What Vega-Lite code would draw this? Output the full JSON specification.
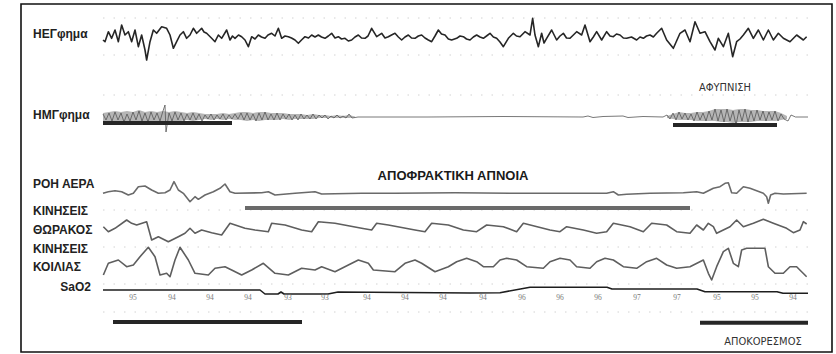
{
  "$schema": "https://vega.github.io/schema/vega-lite/v6.json",
  "width": 836,
  "height": 354,
  "autosize": {"type": "fit", "contains": "padding"},
  "padding": {"left": 21, "top": 4, "right": 4, "bottom": 2},
  "background": "white",
  "config": {"view": {"stroke": "#111111", "strokeWidth": 1.6}},
  "datasets": {
    "grid": [
      {"t": 0, "t2": 141, "v": 334}, {"t": 0, "t2": 141, "v": 297}, {"t": 0, "t2": 141, "v": 257},
      {"t": 0, "t2": 141, "v": 142}, {"t": 0, "t2": 141, "v": 105}, {"t": 0, "t2": 141, "v": 68}, {"t": 0, "t2": 141, "v": 40}
    ],
    "traces": [
      {"c":"eeg","t":0.0,"v":312},{"c":"eeg","t":0.4,"v":310.3},{"c":"eeg","t":1.07,"v":320.3},{"c":"eeg","t":1.73,"v":313.7},{"c":"eeg","t":2.4,"v":322},{"c":"eeg","t":3.07,"v":310.3},{"c":"eeg","t":3.73,"v":327},{"c":"eeg","t":4.4,"v":317},{"c":"eeg","t":5.07,"v":320.3},{"c":"eeg","t":5.73,"v":310.3},{"c":"eeg","t":6.4,"v":322},{"c":"eeg","t":7.07,"v":305.3},{"c":"eeg","t":7.73,"v":317},{"c":"eeg","t":8.4,"v":302},{"c":"eeg","t":8.73,"v":292},{"c":"eeg","t":9.4,"v":310.3},{"c":"eeg","t":10.07,"v":322},{"c":"eeg","t":10.73,"v":318.7},{"c":"eeg","t":11.73,"v":325.3},{"c":"eeg","t":12.73,"v":323.7},{"c":"eeg","t":13.4,"v":317},{"c":"eeg","t":14.07,"v":303.7},{"c":"eeg","t":14.73,"v":310.3},{"c":"eeg","t":15.4,"v":317},{"c":"eeg","t":16.07,"v":320.3},{"c":"eeg","t":16.73,"v":313.7},{"c":"eeg","t":17.4,"v":317},{"c":"eeg","t":18.07,"v":323.7},{"c":"eeg","t":18.73,"v":318.7},{"c":"eeg","t":19.2,"v":321},{"c":"eeg","t":19.73,"v":323.7},{"c":"eeg","t":20.2,"v":320},{"c":"eeg","t":20.73,"v":318.7},{"c":"eeg","t":21.73,"v":313.7},{"c":"eeg","t":22.4,"v":310.3},{"c":"eeg","t":23.07,"v":317},{"c":"eeg","t":23.73,"v":313.7},{"c":"eeg","t":24.73,"v":322},{"c":"eeg","t":25.4,"v":312},{"c":"eeg","t":25.9,"v":316},{"c":"eeg","t":26.4,"v":313.7},{"c":"eeg","t":27.1,"v":317},{"c":"eeg","t":27.73,"v":315.3},{"c":"eeg","t":28.4,"v":312},{"c":"eeg","t":29.07,"v":305.3},{"c":"eeg","t":29.73,"v":315.3},{"c":"eeg","t":30.4,"v":313},{"c":"eeg","t":31.07,"v":317},{"c":"eeg","t":31.7,"v":315},{"c":"eeg","t":32.4,"v":313.7},{"c":"eeg","t":33.0,"v":317},{"c":"eeg","t":33.73,"v":318.7},{"c":"eeg","t":34.4,"v":316},{"c":"eeg","t":35.07,"v":323.7},{"c":"eeg","t":35.73,"v":313.7},{"c":"eeg","t":36.4,"v":316},{"c":"eeg","t":37.07,"v":315.3},{"c":"eeg","t":37.7,"v":314},{"c":"eeg","t":38.4,"v":312},{"c":"eeg","t":39.07,"v":308.7},{"c":"eeg","t":39.7,"v":312},{"c":"eeg","t":40.4,"v":315.3},{"c":"eeg","t":41.1,"v":314},{"c":"eeg","t":41.73,"v":317},{"c":"eeg","t":42.4,"v":315},{"c":"eeg","t":43.07,"v":317},{"c":"eeg","t":43.7,"v":315},{"c":"eeg","t":44.4,"v":313.7},{"c":"eeg","t":45.07,"v":316},{"c":"eeg","t":45.73,"v":318.7},{"c":"eeg","t":46.4,"v":314},{"c":"eeg","t":47.07,"v":315.3},{"c":"eeg","t":47.7,"v":313},{"c":"eeg","t":48.4,"v":313.7},{"c":"eeg","t":49.07,"v":311},{"c":"eeg","t":49.73,"v":312},{"c":"eeg","t":50.4,"v":315},{"c":"eeg","t":51.07,"v":317},{"c":"eeg","t":51.7,"v":314},{"c":"eeg","t":52.4,"v":313.7},{"c":"eeg","t":53.0,"v":316},{"c":"eeg","t":53.73,"v":323.7},{"c":"eeg","t":54.73,"v":315.3},{"c":"eeg","t":55.73,"v":318.7},{"c":"eeg","t":56.4,"v":314},{"c":"eeg","t":57.07,"v":315.3},{"c":"eeg","t":57.7,"v":317},{"c":"eeg","t":58.4,"v":318.7},{"c":"eeg","t":59.07,"v":315},{"c":"eeg","t":59.73,"v":312},{"c":"eeg","t":60.4,"v":315},{"c":"eeg","t":61.07,"v":317},{"c":"eeg","t":61.7,"v":314},{"c":"eeg","t":62.4,"v":313.7},{"c":"eeg","t":63.07,"v":316},{"c":"eeg","t":63.73,"v":317},{"c":"eeg","t":64.4,"v":314},{"c":"eeg","t":65.07,"v":312},{"c":"eeg","t":65.73,"v":310.3},{"c":"eeg","t":66.4,"v":316},{"c":"eeg","t":67.07,"v":322},{"c":"eeg","t":67.7,"v":318},{"c":"eeg","t":68.4,"v":317},{"c":"eeg","t":69.07,"v":313},{"c":"eeg","t":69.73,"v":312},{"c":"eeg","t":70.73,"v":313.7},{"c":"eeg","t":71.4,"v":316},{"c":"eeg","t":72.07,"v":315.3},{"c":"eeg","t":72.7,"v":313},{"c":"eeg","t":73.4,"v":312},{"c":"eeg","t":74.07,"v":315},{"c":"eeg","t":74.73,"v":317},{"c":"eeg","t":75.4,"v":315},{"c":"eeg","t":76.07,"v":313.7},{"c":"eeg","t":76.7,"v":316},{"c":"eeg","t":77.4,"v":318.7},{"c":"eeg","t":78.07,"v":315},{"c":"eeg","t":78.73,"v":313.7},{"c":"eeg","t":79.4,"v":310},{"c":"eeg","t":80.07,"v":305.3},{"c":"eeg","t":81.07,"v":313.7},{"c":"eeg","t":82.07,"v":318.7},{"c":"eeg","t":82.7,"v":316},{"c":"eeg","t":83.4,"v":315.3},{"c":"eeg","t":84.4,"v":320.3},{"c":"eeg","t":85.4,"v":317},{"c":"eeg","t":85.93,"v":333.7},{"c":"eeg","t":86.4,"v":317},{"c":"eeg","t":87.07,"v":305.3},{"c":"eeg","t":87.73,"v":318.7},{"c":"eeg","t":88.2,"v":309},{"c":"eeg","t":88.73,"v":313.7},{"c":"eeg","t":89.73,"v":322},{"c":"eeg","t":90.73,"v":312},{"c":"eeg","t":91.4,"v":316},{"c":"eeg","t":92.07,"v":318.7},{"c":"eeg","t":92.7,"v":314},{"c":"eeg","t":93.4,"v":313.7},{"c":"eeg","t":94.07,"v":317},{"c":"eeg","t":94.73,"v":320.3},{"c":"eeg","t":95.73,"v":317},{"c":"eeg","t":96.4,"v":327},{"c":"eeg","t":97.4,"v":310.3},{"c":"eeg","t":98.07,"v":315},{"c":"eeg","t":98.73,"v":320.3},{"c":"eeg","t":99.73,"v":312},{"c":"eeg","t":100.73,"v":320.3},{"c":"eeg","t":101.4,"v":316},{"c":"eeg","t":102.07,"v":315.3},{"c":"eeg","t":102.7,"v":318},{"c":"eeg","t":103.4,"v":317},{"c":"eeg","t":104.07,"v":314},{"c":"eeg","t":104.73,"v":313.7},{"c":"eeg","t":105.7,"v":315},{"c":"eeg","t":106.73,"v":312},{"c":"eeg","t":107.4,"v":315},{"c":"eeg","t":108.07,"v":313.7},{"c":"eeg","t":108.7,"v":316},{"c":"eeg","t":109.4,"v":317},{"c":"eeg","t":110.07,"v":315},{"c":"eeg","t":110.73,"v":318.7},{"c":"eeg","t":111.73,"v":323.7},{"c":"eeg","t":112.73,"v":312},{"c":"eeg","t":114.07,"v":303.7},{"c":"eeg","t":115.4,"v":318.7},{"c":"eeg","t":116.4,"v":322},{"c":"eeg","t":117.4,"v":310.3},{"c":"eeg","t":118.4,"v":330.3},{"c":"eeg","t":119.4,"v":318.7},{"c":"eeg","t":120.4,"v":320.3},{"c":"eeg","t":121.4,"v":310.3},{"c":"eeg","t":122.4,"v":302},{"c":"eeg","t":123.07,"v":313.7},{"c":"eeg","t":124.07,"v":305.3},{"c":"eeg","t":125.07,"v":318.7},{"c":"eeg","t":125.93,"v":295.3},{"c":"eeg","t":126.73,"v":310.3},{"c":"eeg","t":127.4,"v":313},{"c":"eeg","t":128.07,"v":317},{"c":"eeg","t":129.07,"v":323.7},{"c":"eeg","t":130.07,"v":313.7},{"c":"eeg","t":131.07,"v":322},{"c":"eeg","t":132.07,"v":312},{"c":"eeg","t":133.07,"v":322},{"c":"eeg","t":134.07,"v":312},{"c":"eeg","t":135.07,"v":318.7},{"c":"eeg","t":136.07,"v":313.7},{"c":"eeg","t":137.4,"v":310.3},{"c":"eeg","t":138.73,"v":317},{"c":"eeg","t":140.07,"v":312},{"c":"eeg","t":140.73,"v":315.3},

      {"c":"flow","t":0,"v":158.7},{"c":"flow","t":1.07,"v":160.3},{"c":"flow","t":2.4,"v":161.3},{"c":"flow","t":3.73,"v":160.3},{"c":"flow","t":5.07,"v":157},{"c":"flow","t":6.07,"v":158.7},{"c":"flow","t":7.07,"v":165.3},{"c":"flow","t":8.4,"v":166},{"c":"flow","t":9.73,"v":162},{"c":"flow","t":11.07,"v":158.7},{"c":"flow","t":12.4,"v":159.3},{"c":"flow","t":13.4,"v":162},{"c":"flow","t":14.2,"v":170.3},{"c":"flow","t":15.07,"v":162},{"c":"flow","t":16.07,"v":158.7},{"c":"flow","t":17.4,"v":150.3},{"c":"flow","t":18.4,"v":155.3},{"c":"flow","t":19.07,"v":152.7},{"c":"flow","t":20.4,"v":157},{"c":"flow","t":22.07,"v":160.3},{"c":"flow","t":23.4,"v":163.7},{"c":"flow","t":24.4,"v":168},{"c":"flow","t":25.4,"v":160.3},{"c":"flow","t":26.4,"v":158.7},{"c":"flow","t":31.73,"v":159.3},{"c":"flow","t":33.07,"v":160.3},{"c":"flow","t":34.4,"v":157},{"c":"flow","t":38.4,"v":158.7},{"c":"flow","t":42.4,"v":160.3},{"c":"flow","t":43.73,"v":158},{"c":"flow","t":51.73,"v":158.7},{"c":"flow","t":58.4,"v":158.7},{"c":"flow","t":70.4,"v":159.3},{"c":"flow","t":82.73,"v":158.7},{"c":"flow","t":97.4,"v":158.7},{"c":"flow","t":100.73,"v":158.7},{"c":"flow","t":102.07,"v":160.3},{"c":"flow","t":103.07,"v":157},{"c":"flow","t":104.73,"v":157.7},{"c":"flow","t":109.4,"v":158.7},{"c":"flow","t":116.07,"v":159.3},{"c":"flow","t":118.73,"v":160.3},{"c":"flow","t":120.07,"v":158.7},{"c":"flow","t":122.07,"v":163.7},{"c":"flow","t":123.4,"v":165.3},{"c":"flow","t":124.4,"v":168.7},{"c":"flow","t":125.07,"v":169.3},{"c":"flow","t":125.73,"v":159.3},{"c":"flow","t":126.73,"v":158.7},{"c":"flow","t":128.07,"v":165.3},{"c":"flow","t":129.4,"v":163.7},{"c":"flow","t":130.73,"v":161.3},{"c":"flow","t":132.07,"v":158.7},{"c":"flow","t":132.73,"v":155.3},{"c":"flow","t":133.07,"v":148.7},{"c":"flow","t":133.53,"v":157},{"c":"flow","t":134.4,"v":158.7},{"c":"flow","t":136.07,"v":158},{"c":"flow","t":140.73,"v":158.7},

      {"c":"thor","t":0.07,"v":125.3},{"c":"thor","t":1.07,"v":120.3},{"c":"thor","t":2.4,"v":123.7},{"c":"thor","t":4.73,"v":132},{"c":"thor","t":5.73,"v":128.7},{"c":"thor","t":6.73,"v":127},{"c":"thor","t":8.73,"v":130.3},{"c":"thor","t":9.73,"v":112},{"c":"thor","t":11.07,"v":115.3},{"c":"thor","t":13.07,"v":110.3},{"c":"thor","t":15.07,"v":115.3},{"c":"thor","t":16.4,"v":118.7},{"c":"thor","t":17.4,"v":123.7},{"c":"thor","t":18.4,"v":118.7},{"c":"thor","t":19.73,"v":122},{"c":"thor","t":21.73,"v":119.3},{"c":"thor","t":23.73,"v":117},{"c":"thor","t":25.4,"v":128.7},{"c":"thor","t":28.4,"v":123.7},{"c":"thor","t":30.4,"v":122},{"c":"thor","t":33.07,"v":120.3},{"c":"thor","t":33.73,"v":128.7},{"c":"thor","t":36.4,"v":127},{"c":"thor","t":39.73,"v":122},{"c":"thor","t":41.73,"v":120.3},{"c":"thor","t":43.07,"v":130.3},{"c":"thor","t":46.4,"v":128.7},{"c":"thor","t":51.73,"v":123.7},{"c":"thor","t":53.73,"v":122},{"c":"thor","t":54.73,"v":128.7},{"c":"thor","t":57.07,"v":127},{"c":"thor","t":62.4,"v":122},{"c":"thor","t":64.4,"v":120.3},{"c":"thor","t":65.73,"v":128.7},{"c":"thor","t":69.07,"v":127},{"c":"thor","t":72.07,"v":122},{"c":"thor","t":74.73,"v":120.3},{"c":"thor","t":76.73,"v":127},{"c":"thor","t":80.07,"v":125.3},{"c":"thor","t":82.73,"v":120.3},{"c":"thor","t":84.07,"v":128.7},{"c":"thor","t":89.4,"v":122},{"c":"thor","t":91.4,"v":120.3},{"c":"thor","t":92.73,"v":125.3},{"c":"thor","t":96.07,"v":122},{"c":"thor","t":98.73,"v":118.7},{"c":"thor","t":100.73,"v":120.3},{"c":"thor","t":102.07,"v":128.7},{"c":"thor","t":105.4,"v":125.3},{"c":"thor","t":108.07,"v":120.3},{"c":"thor","t":109.73,"v":128.7},{"c":"thor","t":112.73,"v":127},{"c":"thor","t":114.73,"v":120.3},{"c":"thor","t":117.4,"v":118.7},{"c":"thor","t":118.73,"v":127},{"c":"thor","t":120.07,"v":122},{"c":"thor","t":121.07,"v":128.7},{"c":"thor","t":122.07,"v":125.3},{"c":"thor","t":122.73,"v":118.7},{"c":"thor","t":125.4,"v":125.3},{"c":"thor","t":126.73,"v":132},{"c":"thor","t":128.07,"v":125.3},{"c":"thor","t":130.07,"v":128.7},{"c":"thor","t":132.07,"v":132.7},{"c":"thor","t":134.07,"v":128.7},{"c":"thor","t":136.73,"v":123.7},{"c":"thor","t":138.07,"v":119.3},{"c":"thor","t":139.4,"v":122},{"c":"thor","t":140.07,"v":130.3},{"c":"thor","t":140.73,"v":128},

      {"c":"abd","t":0.07,"v":77},{"c":"abd","t":1.07,"v":88.7},{"c":"abd","t":3.07,"v":92},{"c":"abd","t":4.73,"v":85.3},{"c":"abd","t":6.07,"v":87},{"c":"abd","t":7.4,"v":95.3},{"c":"abd","t":9.07,"v":104.7},{"c":"abd","t":10.4,"v":95.3},{"c":"abd","t":11.4,"v":77},{"c":"abd","t":12.73,"v":78.7},{"c":"abd","t":13.4,"v":75.3},{"c":"abd","t":14.4,"v":92},{"c":"abd","t":15.4,"v":104.7},{"c":"abd","t":17.07,"v":92},{"c":"abd","t":18.4,"v":78.7},{"c":"abd","t":21.07,"v":77},{"c":"abd","t":22.4,"v":83.7},{"c":"abd","t":24.4,"v":85.3},{"c":"abd","t":25.73,"v":82},{"c":"abd","t":27.73,"v":77},{"c":"abd","t":29.73,"v":82},{"c":"abd","t":32.07,"v":88.7},{"c":"abd","t":34.4,"v":78.7},{"c":"abd","t":37.07,"v":77},{"c":"abd","t":39.73,"v":83.7},{"c":"abd","t":42.4,"v":82},{"c":"abd","t":43.73,"v":85.3},{"c":"abd","t":46.4,"v":80.3},{"c":"abd","t":49.07,"v":87},{"c":"abd","t":51.07,"v":92},{"c":"abd","t":53.07,"v":88.7},{"c":"abd","t":54.07,"v":82},{"c":"abd","t":58.4,"v":80.3},{"c":"abd","t":60.4,"v":88.7},{"c":"abd","t":62.4,"v":92},{"c":"abd","t":63.73,"v":88.7},{"c":"abd","t":66.4,"v":80.3},{"c":"abd","t":69.07,"v":85.3},{"c":"abd","t":70.73,"v":90.3},{"c":"abd","t":72.73,"v":93.7},{"c":"abd","t":74.73,"v":90.3},{"c":"abd","t":76.07,"v":85.3},{"c":"abd","t":78.07,"v":85.3},{"c":"abd","t":79.4,"v":92},{"c":"abd","t":80.73,"v":93.7},{"c":"abd","t":82.73,"v":92},{"c":"abd","t":84.73,"v":85.3},{"c":"abd","t":88.07,"v":83.7},{"c":"abd","t":89.4,"v":90.3},{"c":"abd","t":91.4,"v":93.7},{"c":"abd","t":93.4,"v":92},{"c":"abd","t":94.73,"v":85.3},{"c":"abd","t":97.4,"v":83.7},{"c":"abd","t":98.73,"v":90.3},{"c":"abd","t":100.4,"v":93.7},{"c":"abd","t":102.07,"v":92},{"c":"abd","t":104.07,"v":85.3},{"c":"abd","t":106.73,"v":83.7},{"c":"abd","t":108.73,"v":90.3},{"c":"abd","t":110.73,"v":93.7},{"c":"abd","t":112.73,"v":87},{"c":"abd","t":114.73,"v":83.7},{"c":"abd","t":117.4,"v":85.3},{"c":"abd","t":120.07,"v":92},{"c":"abd","t":121.07,"v":78.7},{"c":"abd","t":121.73,"v":72},{"c":"abd","t":122.73,"v":85.3},{"c":"abd","t":124.07,"v":100.3},{"c":"abd","t":125.07,"v":103.7},{"c":"abd","t":126.07,"v":88.7},{"c":"abd","t":127.07,"v":85.3},{"c":"abd","t":127.73,"v":102},{"c":"abd","t":128.73,"v":103.7},{"c":"abd","t":132.4,"v":103.7},{"c":"abd","t":133.07,"v":85.3},{"c":"abd","t":134.4,"v":78.7},{"c":"abd","t":136.07,"v":78.7},{"c":"abd","t":137.4,"v":85.3},{"c":"abd","t":138.73,"v":85.3},{"c":"abd","t":140.73,"v":75.3},

      {"c":"sao2","t":0,"v":62},{"c":"sao2","t":31.4,"v":62},{"c":"sao2","t":32.4,"v":58},{"c":"sao2","t":35,"v":58},{"c":"sao2","t":35.6,"v":60},{"c":"sao2","t":36.2,"v":58},{"c":"sao2","t":45,"v":58},{"c":"sao2","t":47,"v":60},{"c":"sao2","t":73.4,"v":59},{"c":"sao2","t":79.4,"v":59.3},{"c":"sao2","t":85.4,"v":64.7},{"c":"sao2","t":100.8,"v":64.7},{"c":"sao2","t":101.8,"v":63},{"c":"sao2","t":118.8,"v":63},{"c":"sao2","t":120.4,"v":60.3},{"c":"sao2","t":134.8,"v":60.3},{"c":"sao2","t":136,"v":58.7},{"c":"sao2","t":141,"v":58.7}
    ],
    "emgband": [
      {"s":1,"t":0,"hi":239,"lo":231},{"s":1,"t":1.2,"hi":240,"lo":230},{"s":1,"t":2.4,"hi":241,"lo":231},{"s":1,"t":3.6,"hi":240,"lo":230},{"s":1,"t":4.8,"hi":241,"lo":231},{"s":1,"t":6.0,"hi":240,"lo":230},{"s":1,"t":7.2,"hi":242,"lo":231},{"s":1,"t":8.4,"hi":240,"lo":230},{"s":1,"t":9.6,"hi":241,"lo":231},{"s":1,"t":10.8,"hi":240,"lo":231},{"s":1,"t":12.0,"hi":241,"lo":230},{"s":1,"t":13.2,"hi":240,"lo":231},{"s":1,"t":14.4,"hi":241,"lo":231},{"s":1,"t":15.6,"hi":240,"lo":231},{"s":1,"t":16.8,"hi":239,"lo":232},{"s":1,"t":18.0,"hi":240,"lo":231},{"s":1,"t":19.2,"hi":239,"lo":232},{"s":1,"t":20.4,"hi":238,"lo":233},{"s":1,"t":21.6,"hi":238,"lo":232},{"s":1,"t":22.8,"hi":238,"lo":233},{"s":1,"t":24.0,"hi":239,"lo":232},{"s":1,"t":25.2,"hi":238,"lo":233},{"s":1,"t":26.4,"hi":239,"lo":232},{"s":1,"t":27.6,"hi":240,"lo":232},{"s":1,"t":28.8,"hi":240,"lo":231},{"s":1,"t":30.0,"hi":239,"lo":232},{"s":1,"t":31.2,"hi":240,"lo":231},{"s":1,"t":32.4,"hi":240,"lo":232},{"s":1,"t":33.6,"hi":239,"lo":232},{"s":1,"t":34.8,"hi":239,"lo":232},{"s":1,"t":36.0,"hi":239,"lo":233},{"s":1,"t":37.2,"hi":238,"lo":232},{"s":1,"t":38.4,"hi":238,"lo":233},{"s":1,"t":39.6,"hi":238,"lo":233},{"s":1,"t":40.8,"hi":237,"lo":233},{"s":1,"t":42.0,"hi":238,"lo":233},{"s":1,"t":43.2,"hi":237,"lo":234},{"s":1,"t":44.4,"hi":237,"lo":234},{"s":1,"t":45.6,"hi":236,"lo":234},{"s":1,"t":46.8,"hi":237,"lo":234},{"s":1,"t":48.0,"hi":236,"lo":234},{"s":1,"t":49.2,"hi":237,"lo":234},{"s":1,"t":50.4,"hi":235.5,"lo":234.5},
      {"s":2,"t":112.8,"hi":236,"lo":234},{"s":2,"t":114.0,"hi":238,"lo":233},{"s":2,"t":115.2,"hi":240,"lo":232},{"s":2,"t":116.4,"hi":239,"lo":232},{"s":2,"t":117.6,"hi":239,"lo":232},{"s":2,"t":118.8,"hi":240,"lo":231},{"s":2,"t":120.0,"hi":240,"lo":231},{"s":2,"t":121.2,"hi":241,"lo":231},{"s":2,"t":122.4,"hi":243,"lo":231},{"s":2,"t":123.6,"hi":243,"lo":230},{"s":2,"t":124.8,"hi":243,"lo":230},{"s":2,"t":126.0,"hi":242,"lo":229},{"s":2,"t":127.2,"hi":243,"lo":230},{"s":2,"t":128.4,"hi":243,"lo":230},{"s":2,"t":129.6,"hi":242,"lo":230},{"s":2,"t":130.8,"hi":242,"lo":231},{"s":2,"t":132.0,"hi":241,"lo":231},{"s":2,"t":133.2,"hi":241,"lo":231},{"s":2,"t":134.4,"hi":241,"lo":231},{"s":2,"t":135.6,"hi":239,"lo":232},{"s":2,"t":136.8,"hi":236,"lo":233}
    ],
    "emg": [
      {"t":0.0,"v":238},{"t":0.6,"v":232},{"t":1.2,"v":239},{"t":1.8,"v":231},{"t":2.4,"v":240},{"t":3.0,"v":232},{"t":3.6,"v":239},{"t":4.2,"v":230},{"t":4.8,"v":238},{"t":5.4,"v":231},{"t":6.0,"v":240},{"t":6.6,"v":232},{"t":7.2,"v":241},{"t":7.8,"v":231},{"t":8.4,"v":239},{"t":9.0,"v":230},{"t":9.6,"v":240},{"t":10.2,"v":232},{"t":10.8,"v":239},{"t":11.4,"v":231},{"t":12.0,"v":241},{"t":12.4,"v":247},{"t":12.6,"v":220},{"t":13.2,"v":239},{"t":13.8,"v":231},{"t":14.4,"v":240},{"t":15.0,"v":232},{"t":15.6,"v":239},{"t":16.2,"v":231},{"t":16.8,"v":238},{"t":17.4,"v":232},{"t":18.0,"v":239},{"t":18.6,"v":232},{"t":19.2,"v":238},{"t":19.8,"v":231},{"t":20.4,"v":237},{"t":21.0,"v":233},{"t":21.6,"v":238},{"t":22.2,"v":232},{"t":22.8,"v":237},{"t":23.4,"v":233},{"t":24.0,"v":238},{"t":24.6,"v":232},{"t":25.2,"v":237},{"t":25.8,"v":233},{"t":26.4,"v":238},{"t":27.0,"v":233},{"t":27.6,"v":239},{"t":28.2,"v":232},{"t":28.8,"v":239},{"t":29.4,"v":232},{"t":30.0,"v":238},{"t":30.6,"v":231},{"t":31.2,"v":239},{"t":31.8,"v":232},{"t":32.4,"v":240},{"t":33.0,"v":232},{"t":33.6,"v":238},{"t":34.2,"v":232},{"t":34.8,"v":239},{"t":35.4,"v":232},{"t":36.0,"v":238},{"t":36.6,"v":233},{"t":37.2,"v":238},{"t":37.8,"v":232},{"t":38.4,"v":237},{"t":39.0,"v":232},{"t":39.6,"v":238},{"t":40.2,"v":233},{"t":40.8,"v":237},{"t":41.4,"v":233},{"t":42.0,"v":238},{"t":42.6,"v":233},{"t":43.2,"v":237},{"t":43.8,"v":234},{"t":44.4,"v":237},{"t":45.0,"v":233},{"t":45.6,"v":236},{"t":46.2,"v":234},{"t":46.8,"v":237},{"t":47.4,"v":234},{"t":48.0,"v":236},{"t":48.6,"v":234},{"t":49.2,"v":238},{"t":49.8,"v":234},{"t":51,"v":235},{"t":65,"v":235},{"t":80,"v":235.5},{"t":96,"v":235},{"t":97,"v":236},{"t":98,"v":234.5},{"t":100,"v":235.5},{"t":104,"v":236},{"t":105,"v":234.5},{"t":108,"v":235.5},{"t":112,"v":235},
      {"t":112.8,"v":237},{"t":113.4,"v":233},{"t":114.0,"v":239},{"t":114.6,"v":232},{"t":115.2,"v":240},{"t":115.8,"v":233},{"t":116.4,"v":239},{"t":117.0,"v":232},{"t":117.6,"v":238},{"t":118.2,"v":231},{"t":118.8,"v":240},{"t":119.4,"v":232},{"t":120.0,"v":239},{"t":120.6,"v":231},{"t":121.2,"v":241},{"t":121.8,"v":232},{"t":122.4,"v":243},{"t":123.0,"v":231},{"t":123.6,"v":242},{"t":124.2,"v":230},{"t":124.8,"v":243},{"t":125.4,"v":231},{"t":126.0,"v":241},{"t":126.6,"v":227},{"t":127.2,"v":242},{"t":127.8,"v":231},{"t":128.4,"v":243},{"t":129.0,"v":230},{"t":129.6,"v":241},{"t":130.2,"v":231},{"t":130.8,"v":242},{"t":131.4,"v":232},{"t":132.0,"v":241},{"t":132.6,"v":231},{"t":133.2,"v":240},{"t":133.8,"v":232},{"t":134.4,"v":241},{"t":135.0,"v":231},{"t":135.6,"v":238},{"t":136.2,"v":233},{"t":137.0,"v":231},{"t":137.6,"v":237},{"t":138.5,"v":235},{"t":141,"v":235}
    ],
    "bars": [
      {"g":"dark","t":0,"t2":25.8,"v":229},
      {"g":"dark","t":114,"t2":134.8,"v":227},
      {"g":"mid","t":28.4,"t2":117.4,"v":144},
      {"g":"dark","t":2,"t2":39.8,"v":30},
      {"g":"dark","t":119.4,"t2":141,"v":29.3}
    ],
    "labels": [
      {"s":"ΗΕΓφημα","t":-14,"v":318},
      {"s":"ΗΜΓφημα","t":-14,"v":237},
      {"s":"ΡΟΗ ΑΕΡΑ","t":-14,"v":168},
      {"s":"ΚΙΝΗΣΕΙΣ","t":-14,"v":141},
      {"s":"ΘΩΡΑΚΟΣ","t":-14,"v":122},
      {"s":"ΚΙΝΗΣΕΙΣ","t":-14,"v":103},
      {"s":"ΚΟΙΛΙΑΣ","t":-14,"v":85}
    ],
    "events": [
      {"s":"ΑΦΥΠΝΙΣΗ","t":124.4,"v":264},
      {"s":"ΑΠΟΚΟΡΕΣΜΟΣ","t":132,"v":10}
    ],
    "sat": [
      {"s":"95","t":6,"v":54},{"s":"94","t":13.8,"v":54},{"s":"94","t":21.4,"v":54},{"s":"94","t":29,"v":54},{"s":"93","t":37,"v":54},{"s":"93","t":44.4,"v":54},{"s":"94","t":52.8,"v":54},{"s":"94","t":60.4,"v":54},{"s":"94","t":68,"v":54},{"s":"94","t":76,"v":54},{"s":"96","t":83.8,"v":54},{"s":"96","t":91.4,"v":54},{"s":"96","t":99,"v":54},{"s":"97","t":106.8,"v":54},{"s":"97","t":114.8,"v":54},{"s":"95","t":122.8,"v":54},{"s":"95","t":130.4,"v":54},{"s":"94","t":138,"v":54}
    ]
  },
  "encoding": {
    "x": {"field": "t", "type": "quantitative", "scale": {"domain": [-16.4, 145.8], "nice": false, "zero": false}, "axis": null},
    "y": {"field": "v", "type": "quantitative", "scale": {"domain": [0, 348], "nice": false, "zero": false}, "axis": null}
  },
  "layer": [
    {
      "data": {"name": "grid"},
      "mark": {"type": "rule", "stroke": "#d2d2d2", "strokeWidth": 1, "strokeDash": [1.5, 9]},
      "encoding": {"x2": {"field": "t2"}}
    },
    {
      "data": {"name": "emgband"},
      "mark": {"type": "area", "fill": "#9c9c9c", "opacity": 0.75},
      "encoding": {
        "y": {"field": "hi", "type": "quantitative"},
        "y2": {"field": "lo"},
        "detail": {"field": "s"}
      }
    },
    {
      "data": {"name": "traces"},
      "mark": {"type": "line", "strokeWidth": 1.6, "strokeJoin": "round"},
      "encoding": {
        "detail": {"field": "c"},
        "color": {"field": "c", "type": "nominal", "legend": null,
          "scale": {"domain": ["eeg", "flow", "thor", "abd", "sao2"], "range": ["#262626", "#6a6a6a", "#5e5e5e", "#5e5e5e", "#1e1e1e"]}}
      }
    },
    {
      "data": {"name": "emg"},
      "mark": {"type": "line", "strokeWidth": 0.8, "stroke": "#555555"}
    },
    {
      "data": {"name": "bars"},
      "mark": {"type": "rule", "strokeWidth": 4, "strokeCap": "butt"},
      "encoding": {
        "x2": {"field": "t2"},
        "color": {"field": "g", "type": "nominal", "legend": null,
          "scale": {"domain": ["dark", "mid"], "range": ["#3c3c3c", "#7a7a7a"]}}
      }
    },
    {
      "data": {"name": "labels"},
      "mark": {"type": "text", "font": "Liberation Sans", "fontSize": 12, "fontWeight": "bold", "fill": "#222222", "align": "left", "baseline": "middle"},
      "encoding": {"text": {"field": "s"}}
    },
    {
      "data": {"values": [{"s": "SaO2", "t": -2.4, "v": 65}]},
      "mark": {"type": "text", "font": "Liberation Sans", "fontSize": 12, "fontWeight": "bold", "fill": "#222222", "align": "right", "baseline": "middle"},
      "encoding": {"text": {"field": "s"}}
    },
    {
      "data": {"values": [{"s": "ΑΠΟΦΡΑΚΤΙΚΗ ΑΠΝΟΙΑ", "t": 70, "v": 176}]},
      "mark": {"type": "text", "font": "Liberation Sans", "fontSize": 13, "fontWeight": "bold", "fill": "#1a1a1a", "align": "center", "baseline": "middle"},
      "encoding": {"text": {"field": "s"}}
    },
    {
      "data": {"name": "events"},
      "mark": {"type": "text", "font": "DejaVu Sans Condensed, Liberation Sans", "fontSize": 11, "fill": "#333333", "align": "center", "baseline": "middle"},
      "encoding": {"text": {"field": "s"}}
    },
    {
      "data": {"name": "sat"},
      "mark": {"type": "text", "font": "Liberation Serif", "fontSize": 7.5, "fill": "#7a7a7a", "align": "center", "baseline": "middle"},
      "encoding": {"text": {"field": "s"}}
    }
  ]
}
